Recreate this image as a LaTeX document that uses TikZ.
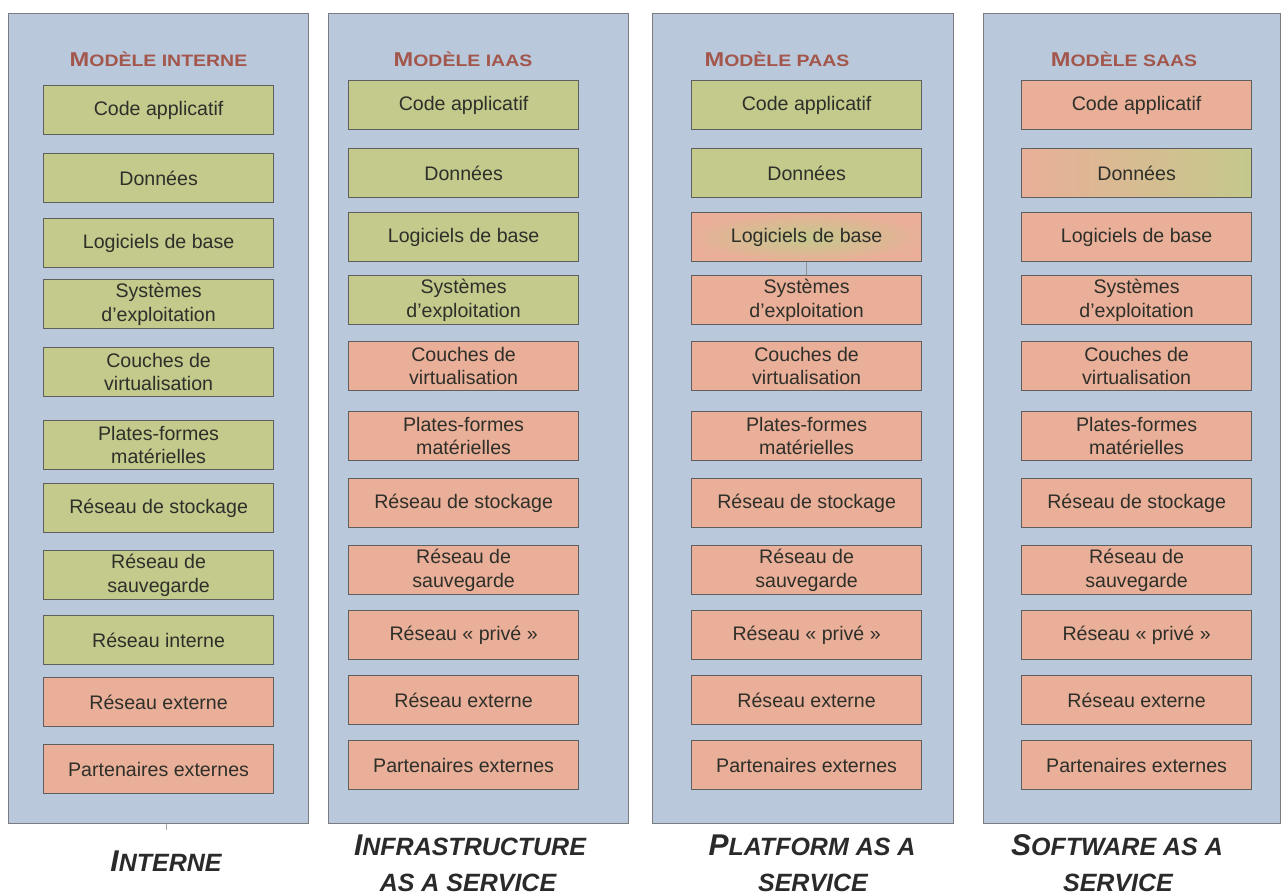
\documentclass[tikz,border=0pt]{standalone}
\usepackage{fontspec}
\setmainfont{Liberation Sans}
\usepackage{graphicx}

\definecolor{panelfill}{HTML}{B9C8DB}
\definecolor{panelline}{HTML}{7A7C80}
\definecolor{cellline}{HTML}{5E6060}
\definecolor{ours}{HTML}{C4C98C}
\definecolor{theirs}{HTML}{E9AF98}
\definecolor{hdrred}{HTML}{A3564B}
\definecolor{celltext}{HTML}{2F2F2A}
\definecolor{labtext}{HTML}{2A2A2A}

% header in faked small capitals
\newcommand\hdrtext[2]{\scalebox{1.18}[1]{\bfseries\fontsize{20}{20}\selectfont #1\fontsize{16.5}{20}\selectfont #2}}
% model name under each column
\newcommand\captext[2]{\bfseries\itshape\fontsize{30}{30}\selectfont #1\fontsize{25}{30}\selectfont #2}

\tikzset{
  panel/.style={draw=panelline, line width=1.3pt, fill=panelfill, anchor=north west,
    minimum width=#1, minimum height=810pt, inner sep=0pt},
  cell/.style={draw=cellline, line width=1.2pt, anchor=north west,
    minimum width=230pt, minimum height=49pt, inner sep=0pt, align=center,
    text=celltext, font=\fontsize{19.6}{23.5}\selectfont},
  hdr/.style={text=hdrred, anchor=base, inner sep=0pt},
  caption/.style={text=labtext, anchor=base, inner sep=0pt},
}

\begin{document}
\begin{tikzpicture}[x=1pt,y=-1pt]
\fill[white] (0,0) rectangle (1281,895);
\useasboundingbox (0,0) rectangle (1281,895);

% columns
\node[panel=300pt] (P1) at (8,13) {};
\node[panel=300pt] (P2) at (328,13) {};
\node[panel=301pt] (P3) at (652,13) {};
\node[panel=297pt] (P4) at (983,13) {};

% column headers
\node[hdr] (h1) at (158.5,66) {\hdrtext{M}{ODÈLE INTERNE}};
\node[hdr] (h2) at (463,66) {\hdrtext{M}{ODÈLE IAAS}};
\node[hdr] (h3) at (777,66) {\hdrtext{M}{ODÈLE PAAS}};
\node[hdr] (h4) at (1124,66) {\hdrtext{M}{ODÈLE SAAS}};

% internal model
\foreach \n/\t/\c/\txt in {
  1/85/ours/{Code applicatif},
  2/153/ours/{Données},
  3/218/ours/{Logiciels de base},
  4/279/ours/{Systèmes\\d’exploitation},
  5/347/ours/{Couches de\\virtualisation},
  6/420/ours/{Plates-formes\\matérielles},
  7/483/ours/{Réseau de stockage},
  8/550/ours/{Réseau de\\sauvegarde},
  9/615/ours/{Réseau interne},
  10/677/theirs/{Réseau externe},
  11/744/theirs/{Partenaires externes}}
  {\node[cell, fill=\c] (p1r\n) at (43,\t) {\txt};}

% IaaS
\foreach \n/\t/\c/\txt in {
  1/80/ours/{Code applicatif},
  2/148/ours/{Données},
  3/212/ours/{Logiciels de base},
  4/275/ours/{Systèmes\\d’exploitation},
  5/341/theirs/{Couches de\\virtualisation},
  6/411/theirs/{Plates-formes\\matérielles},
  7/478/theirs/{Réseau de stockage},
  8/545/theirs/{Réseau de\\sauvegarde},
  9/610/theirs/{Réseau « privé »},
  10/675/theirs/{Réseau externe},
  11/740/theirs/{Partenaires externes}}
  {\node[cell, fill=\c] (p2r\n) at (348,\t) {\txt};}

% PaaS
\foreach \n/\t/\c/\txt in {
  1/80/ours/{Code applicatif},
  2/148/ours/{Données},
  4/275/theirs/{Systèmes\\d’exploitation},
  5/341/theirs/{Couches de\\virtualisation},
  6/411/theirs/{Plates-formes\\matérielles},
  7/478/theirs/{Réseau de stockage},
  8/545/theirs/{Réseau de\\sauvegarde},
  9/610/theirs/{Réseau « privé »},
  10/675/theirs/{Réseau externe},
  11/740/theirs/{Partenaires externes}}
  {\node[cell, fill=\c] (p3r\n) at (691,\t) {\txt};}
\node[cell, inner color=ours, outer color=theirs] (p3r3) at (691,212) {Logiciels de base};
\draw[cellline!70, line width=0.8pt] (p3r3.south) -- (p3r4.north);

% SaaS
\foreach \n/\t/\txt in {
  1/80/{Code applicatif},
  3/212/{Logiciels de base},
  4/275/{Systèmes\\d’exploitation},
  5/341/{Couches de\\virtualisation},
  6/411/{Plates-formes\\matérielles},
  7/478/{Réseau de stockage},
  8/545/{Réseau de\\sauvegarde},
  9/610/{Réseau « privé »},
  10/675/{Réseau externe},
  11/740/{Partenaires externes}}
  {\node[cell, fill=theirs] (p4r\n) at (1021,\t) {\txt};}
\node[cell, left color=theirs, right color=ours] (p4r2) at (1021,148) {Données};

% stub below the first column
\coordinate (stub) at ([xshift=8pt]P1.south);
\draw[panelline!70, line width=0.8pt] (stub) -- ++(0,6);

% model names
\node[caption] (c1) at (166,871) {\captext{I}{NTERNE}};
\node[caption] (c2a) at (470,855) {\captext{I}{NFRASTRUCTURE}};
\node[caption] (c2b) at (468,891) {\captext{}{AS A SERVICE}};
\node[caption] (c3a) at (812,855) {\captext{P}{LATFORM AS A}};
\node[caption] (c3b) at (813,891) {\captext{}{SERVICE}};
\node[caption] (c4a) at (1117,855) {\captext{S}{OFTWARE AS A}};
\node[caption] (c4b) at (1118,891) {\captext{}{SERVICE}};
\end{tikzpicture}
\end{document}
